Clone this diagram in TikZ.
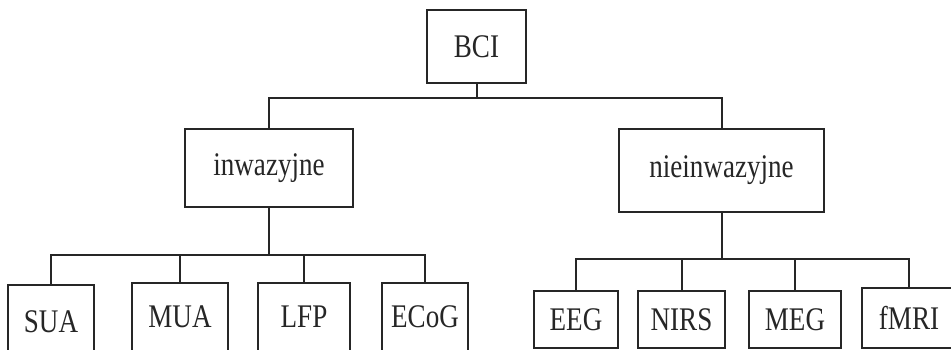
\documentclass[tikz,border=0pt]{standalone}
\usepackage{fontspec}
\setmainfont{Liberation Serif}[FakeStretch=0.82]
\begin{document}
\begin{tikzpicture}[x=1pt,y=-1pt,
  box/.style={draw=black!85, line width=2pt, inner sep=0pt, font=\fontsize{33}{36}\selectfont, text=black!85},
  conn/.style={draw=black!85, line width=2pt}]
\clip (0,0) rectangle (951,350);
\fill[white] (0,0) rectangle (951,350);
% level 0
\node[box, minimum width=99pt, minimum height=73pt] (bci) at (476.5,46.5) {BCI};
% level 1
\node[box, minimum width=168pt, minimum height=78pt] (inw) at (269,168) {inwazyjne};
\node[box, minimum width=205pt, minimum height=83pt] (nie) at (721.5,170.5) {nieinwazyjne};
% level 2 left
\node[box, minimum width=86pt, minimum height=74pt] (sua) at (51,322) {SUA};
\node[box, minimum width=96pt, minimum height=68pt] (mua) at (180,317) {MUA};
\node[box, minimum width=92pt, minimum height=68pt] (lfp) at (304,317) {LFP};
\node[box, minimum width=86pt, minimum height=68pt] (ecog) at (425,317) {ECoG};
% level 2 right
\node[box, minimum width=84pt, minimum height=57pt] (eeg) at (576,319.5) {EEG};
\node[box, minimum width=87pt, minimum height=57pt] (nirs) at (681.5,319.5) {NIRS};
\node[box, minimum width=92pt, minimum height=57pt] (meg) at (795,319.5) {MEG};
\node[box, minimum width=94pt, minimum height=60pt] (fmri) at (909,318) {fMRI};
% bus coordinates
\coordinate (bus0) at (0,98);
\coordinate (busL) at (0,255);
\coordinate (busR) at (0,259);
% connectors
\draw[conn] (bci.south) -- (bci.south |- bus0);
\draw[conn] (inw.north) |- (bus0 -| bci.south) -| (nie.north);
\draw[conn] (inw.south) -- (inw.south |- busL);
\draw[conn] (sua.north) |- (busL -| ecog.north) -- (ecog.north);
\draw[conn] (mua.north) -- (mua.north |- busL);
\draw[conn] (lfp.north) -- (lfp.north |- busL);
\draw[conn] (nie.south) -- (nie.south |- busR);
\draw[conn] (eeg.north) |- (busR -| fmri.north) -- (fmri.north);
\draw[conn] (nirs.north) -- (nirs.north |- busR);
\draw[conn] (meg.north) -- (meg.north |- busR);
\end{tikzpicture}
\end{document}
